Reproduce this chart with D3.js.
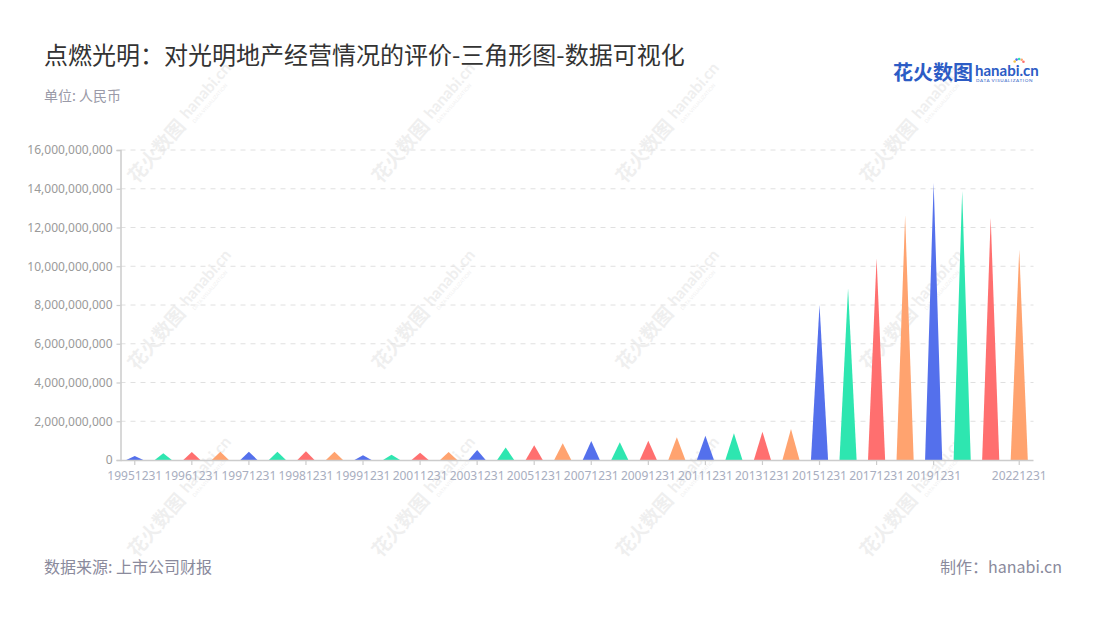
<!DOCTYPE html>
<html>
<head>
<meta charset="utf-8">
<script src="https://cdn.jsdelivr.net/npm/d3@7/dist/d3.min.js"></script>
<style>
  html, body { margin: 0; padding: 0; background: #fff; }
  svg { display: block; font-family: "Noto Sans CJK SC", "Noto Sans", sans-serif; }
</style>
</head>
<body>
<svg id="chart" width="1100" height="620"></svg>
<script>
// ---- data ----
const categories = [
  "19951231", "19960630", "19961231", "19970630", "19971231", "19980630",
  "19981231", "19990630", "19991231", "20001231", "20011231", "20021231",
  "20031231", "20041231", "20051231", "20061231", "20071231", "20081231",
  "20091231", "20101231", "20111231", "20121231", "20131231", "20141231",
  "20151231", "20161231", "20171231", "20181231", "20191231", "20201231",
  "20211231", "20221231"
];
const values = [
  0.21e9, 0.35e9, 0.41e9, 0.42e9, 0.43e9, 0.42e9,
  0.45e9, 0.43e9, 0.24e9, 0.27e9, 0.38e9, 0.41e9,
  0.52e9, 0.64e9, 0.76e9, 0.87e9, 0.98e9, 0.91e9,
  1.00e9, 1.17e9, 1.25e9, 1.38e9, 1.46e9, 1.60e9,
  8.00e9, 8.86e9, 10.41e9, 12.62e9, 14.30e9, 13.90e9,
  12.50e9, 10.85e9
];
const yTicks = [0, 2e9, 4e9, 6e9, 8e9, 10e9, 12e9, 14e9, 16e9];
const shownLabels = [
  "19951231", "19961231", "19971231", "19981231", "19991231", "20011231",
  "20031231", "20051231", "20071231", "20091231", "20111231", "20131231",
  "20151231", "20171231", "20191231", "20221231"
];
const palette = ["#5470ec", "#2ee6b0", "#ff6f6f", "#ffa36f"];

const titleText = "点燃光明：对光明地产经营情况的评价-三角形图-数据可视化";
const unitText = "单位: 人民币";
const sourceText = "数据来源: 上市公司财报";
const makerText = "制作：hanabi.cn";

// ---- layout ----
const svg = d3.select("#chart");
const plotL = 120.5, plotR = 1033.5, plotT = 150, plotB = 460;

// watermarks
const wmX = [182, 426, 670, 914], wmY = [123, 310, 497];
const wm = svg.append("g").attr("class", "watermarks");
wmY.forEach(cy => wmX.forEach(cx => {
  const g = wm.append("g").attr("transform", `translate(${cx},${cy}) rotate(-49)`)
    .attr("opacity", 0.09);
  g.append("text").attr("x", -76).attr("y", 6).attr("font-size", 19)
    .attr("font-weight", 700).attr("fill", "#555").text("花火数图");
  g.append("text").attr("x", 6).attr("y", 2).attr("font-size", 16)
    .attr("font-weight", 700).attr("fill", "#555").attr("font-family", "Lato, sans-serif").text("hanabi.cn");
  g.append("text").attr("x", 8).attr("y", 10).attr("font-size", 5)
    .attr("fill", "#555").attr("font-family", "Lato, sans-serif").text("DATA VISUALIZATION");
}));

const x = d3.scaleBand().domain(categories).range([plotL, plotR]).padding(0);
const y = d3.scaleLinear().domain([0, 16e9]).range([plotB, plotT]);

// grid lines
svg.append("g").selectAll("line").data(yTicks.filter(d => d > 0)).join("line")
  .attr("x1", plotL).attr("x2", plotR)
  .attr("y1", d => y(d)).attr("y2", d => y(d))
  .attr("stroke", "#e0e0e0").attr("stroke-dasharray", "5,5").attr("stroke-width", 1);

// y axis
const yAxis = svg.append("g").attr("transform", `translate(${plotL},0)`)
  .call(d3.axisLeft(y).tickValues(yTicks).tickFormat(d3.format(",")).tickSize(4).tickPadding(4));
yAxis.select(".domain").attr("stroke", "#cccccc").attr("stroke-width", 1.5);
yAxis.selectAll(".tick line").attr("stroke", "#cccccc").attr("stroke-width", 1.2);
yAxis.selectAll(".tick text").attr("fill", "#9a9a9a").attr("font-size", 12)
  .attr("font-family", "'Noto Sans', sans-serif");

// triangles
const halfW = x.bandwidth() * 0.3;
svg.append("g").selectAll("path").data(categories).join("path")
  .attr("d", (c, i) => {
    const cx = x(c) + x.bandwidth() / 2;
    const y0 = y(0), y1 = y(values[i]);
    return `M${cx - halfW},${y0} L${cx},${y1} L${cx + halfW},${y0} Z`;
  })
  .attr("fill", (c, i) => palette[i % palette.length]);

// x axis
const xAxis = svg.append("g").attr("transform", `translate(0,${plotB})`)
  .call(d3.axisBottom(x).tickValues(shownLabels).tickSize(5).tickPadding(6));
xAxis.select(".domain").attr("stroke", "#cccccc").attr("stroke-width", 1.5)
  .attr("d", `M${plotL},0.5H${plotR}`);
xAxis.selectAll(".tick line").attr("stroke", "#cccccc").attr("stroke-width", 1.2);
xAxis.selectAll(".tick text").attr("fill", "#a8aec0").attr("font-size", 12)
  .attr("font-family", "'Noto Sans', sans-serif");

// titles
svg.append("text").attr("x", 44).attr("y", 64).attr("font-size", 24)
  .attr("fill", "#333").text(titleText);
svg.append("text").attr("x", 44).attr("y", 101).attr("font-size", 14)
  .attr("fill", "#9a9aa8").text(unitText);
svg.append("text").attr("x", 44).attr("y", 573).attr("font-size", 16)
  .attr("fill", "#8a8a9c").text(sourceText);
svg.append("text").attr("x", 1062).attr("y", 573).attr("font-size", 16)
  .attr("text-anchor", "end").attr("fill", "#8a8a9c").text(makerText);

// logo
const logo = svg.append("g");
logo.append("text").attr("x", 893).attr("y", 80).attr("font-size", 20)
  .attr("font-weight", 700).attr("fill", "#2c5cc5").text("花火数图");
logo.append("text").attr("x", 975).attr("y", 76).attr("font-size", 15)
  .attr("font-weight", 700).attr("fill", "#2c5cc5").attr("font-family", "Lato, sans-serif").text("hanabi.cn");
logo.append("text").attr("x", 976).attr("y", 82).attr("font-size", 4.6)
  .attr("fill", "#2c5cc5").attr("font-family", "Lato, sans-serif").attr("letter-spacing", 0.6).text("DATA VISUALIZATION");
const dotColors = ["#ff6f6f", "#ffa36f", "#2ee6b0", "#5470ec", "#f5c542"];
dotColors.forEach((c, i) => {
  const a = -Math.PI * (0.15 + i * 0.17);
  logo.append("circle").attr("cx", 1019 + Math.cos(a) * 5).attr("cy", 64 + Math.sin(a) * 5)
    .attr("r", 1.3).attr("fill", c);
});
</script>
</body>
</html>
